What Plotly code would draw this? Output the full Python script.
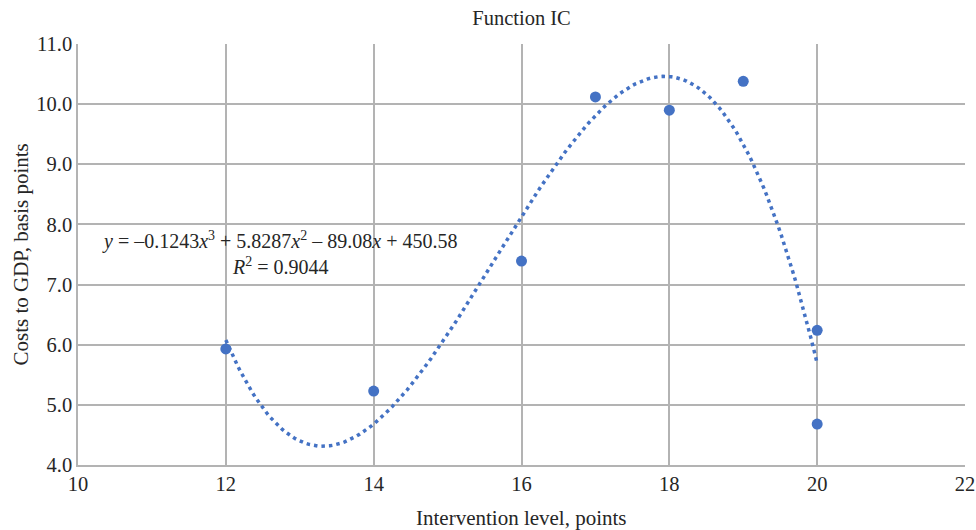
import numpy as np
import plotly.graph_objects as go

x_vals = [12, 14, 16, 17, 18, 19, 20, 20]
y_vals = [5.93, 5.23, 7.39, 10.12, 9.90, 10.38, 6.24, 4.68]
x_ticks = [10, 12, 14, 16, 18, 20, 22]
y_ticks = [4.0, 5.0, 6.0, 7.0, 8.0, 9.0, 10.0, 11.0]

coef = np.polyfit(x_vals, y_vals, 3)
xs = np.linspace(min(x_vals), max(x_vals), 200)
ys = np.polyval(coef, xs)

blue = "#4472C4"
grid = "#b3b3b3"
font = "Liberation Serif"
txt = "#262626"

fig = go.Figure()
fig.add_trace(go.Scatter(x=xs, y=ys, mode="lines",
                         line=dict(color=blue, width=3.5, dash="3.5px,4px"),
                         hoverinfo="skip", showlegend=False))
fig.add_trace(go.Scatter(x=x_vals, y=y_vals, mode="markers",
                         marker=dict(color=blue, size=11),
                         showlegend=False))

fig.update_layout(
    width=976, height=530,
    margin=dict(l=78, r=11, t=44, b=65, autoexpand=False),
    paper_bgcolor="white", plot_bgcolor="white",
    font=dict(family=font, size=20, color=txt),
    title=dict(text="Function IC", x=0.5, xanchor="center", xref="paper",
               y=1 - 18 / 530, yanchor="middle",
               font=dict(family=font, size=20.5, color=txt)),
    xaxis=dict(range=[10, 22], tickvals=x_ticks, ticktext=[str(t) for t in x_ticks],
               showgrid=True, gridcolor=grid, gridwidth=1.5,
               showline=True, linecolor=grid, linewidth=1.5, zeroline=False,
               ticks="", tickfont=dict(size=20.5), automargin=False),
    yaxis=dict(range=[4, 11], tickvals=y_ticks, ticktext=[f"{t:.1f}" for t in y_ticks],
               showgrid=True, gridcolor=grid, gridwidth=1.5,
               showline=True, linecolor=grid, linewidth=1.5, zeroline=False,
               ticks="", tickfont=dict(size=20.5), automargin=False),
)

fig.add_annotation(
    x=0.5, y=0, xref="paper", yref="paper", xanchor="center", yanchor="middle",
    yshift=-53, showarrow=False, text="Intervention level, points",
    font=dict(family=font, size=21, color=txt),
)
fig.add_annotation(
    x=0, y=0.5, xref="paper", yref="paper", xanchor="center", yanchor="middle",
    xshift=-58, textangle=-90, showarrow=False, text="Costs to GDP, basis points",
    font=dict(family=font, size=21, color=txt),
)
fig.add_annotation(
    x=12.72, y=7.52, xref="x", yref="y", showarrow=False, align="center",
    text="<i>y</i> = –0.1243<i>x</i><sup>3</sup> + 5.8287<i>x</i><sup>2</sup> – 89.08<i>x</i> + 450.58<br><i>R</i><sup>2</sup> = 0.9044",
    font=dict(family=font, size=20, color=txt),
)

fig.write_html("out.html", config={"displayModeBar": False},
               post_script="document.body.style.margin='0';document.body.style.padding='0';")
